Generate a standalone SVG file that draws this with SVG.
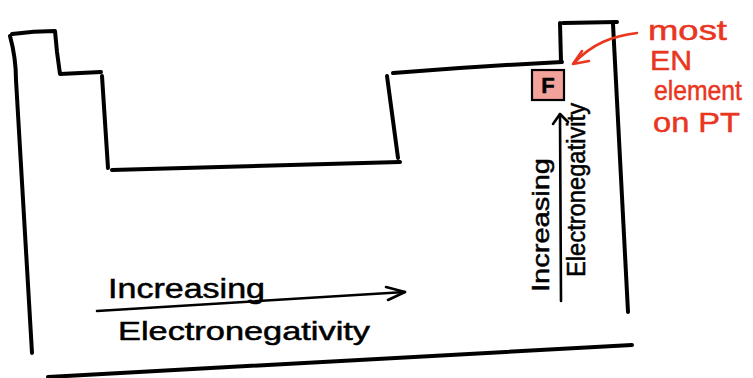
<svg xmlns="http://www.w3.org/2000/svg" width="753" height="378" viewBox="0 0 753 378">
<style>
.ol{fill:none;stroke:#000;stroke-width:4;stroke-linecap:round;stroke-linejoin:round}
.ar{fill:none;stroke:#000;stroke-width:2.6;stroke-linecap:round;stroke-linejoin:round}
.red{fill:none;stroke:#e8361f;stroke-width:2.6;stroke-linecap:round;stroke-linejoin:round}
.bt{font-family:"Liberation Sans","DejaVu Sans",sans-serif;fill:#000;stroke:#000;stroke-width:0.5}
.rt{font-family:"Liberation Sans","DejaVu Sans",sans-serif;fill:#e8361f;stroke:#e8361f;stroke-width:0.5;font-size:28px}
</style>
<rect width="753" height="378" fill="#fff"/>
<g id="table-outline">
<path class="ol" d="M12,34 Q34,31 55,31 L57,52 L60,74 L101,72"/>
<path class="ol" d="M10,36 Q16,58 16,80 L32,353"/>
<path class="ol" d="M102,76 L108,168"/>
<path class="ol" d="M112,170 L400,162"/>
<path class="ol" d="M387,76 L398,158"/>
<path class="ol" d="M393,73 Q480,66 562,62"/>
<path class="ol" d="M561,62 L560,23"/>
<path class="ol" d="M563,23 L617,22"/>
<path class="ol" d="M613,24 L628,312"/>
<path class="ol" d="M48,377 Q340,362 632,345"/>
</g>
<g id="fluorine">
<rect x="532" y="70" width="32" height="30" fill="#f2a29a" stroke="#000" stroke-width="2.2"/>
<text class="bt" x="548" y="93" font-size="22" font-weight="bold" text-anchor="middle">F</text>
</g>
<g id="connectors">
<path class="ar" d="M97,311 L405,292"/>
<path class="ar" d="M386,287 L405,292 L388,300"/>
<path class="ar" d="M561,301 L560,114"/>
<path class="ar" d="M553,124 L560,114 L568,122"/>
<path class="red" d="M637,33 C612,36 592,44 574,63"/>
<path class="red" d="M582,51 L573,64 L589,61"/>
</g>
<g id="horizontal-label">
<text class="bt" x="108" y="298" font-size="27" textLength="157" lengthAdjust="spacingAndGlyphs">Increasing</text>
<text class="bt" x="118" y="340" font-size="25" textLength="252" lengthAdjust="spacingAndGlyphs">Electronegativity</text>
</g>
<g id="vertical-label">
<text class="bt" transform="translate(549,292) rotate(-90)" font-size="24" textLength="134" lengthAdjust="spacingAndGlyphs">Increasing</text>
<text class="bt" transform="translate(585,277) rotate(-90)" font-size="25" textLength="174" lengthAdjust="spacingAndGlyphs">Electronegativity</text>
</g>
<g id="annotation">
<text class="rt" x="648" y="40" textLength="79" lengthAdjust="spacingAndGlyphs">most</text>
<text class="rt" x="650" y="70" textLength="42" lengthAdjust="spacingAndGlyphs">EN</text>
<text class="rt" x="654" y="100" textLength="88" lengthAdjust="spacingAndGlyphs">element</text>
<text class="rt" x="653" y="132" textLength="87" lengthAdjust="spacingAndGlyphs">on PT</text>
</g>
</svg>
